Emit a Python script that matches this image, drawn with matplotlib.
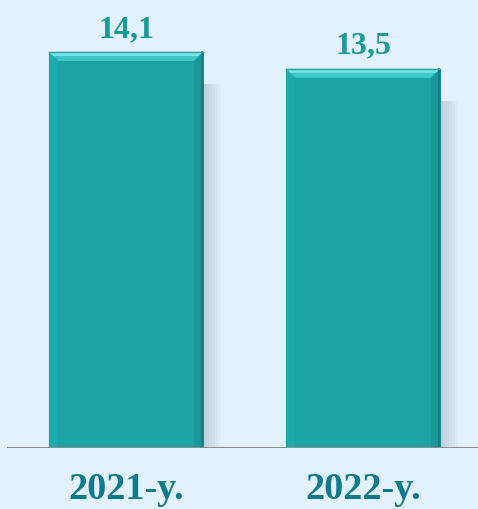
import numpy as np
import matplotlib.pyplot as plt
from matplotlib.patches import Polygon, Rectangle

years = ['2021-y.', '2022-y.']
values = [14.1, 13.5]
value_labels = ['14,1', '13,5']

bg = '#E1F1FD'
bar_col = '#1CA3A3'

fig = plt.figure(figsize=(4.78, 5.09), dpi=100)
fig.patch.set_facecolor(bg)
ax = fig.add_axes([7/478, 61/509, 471/478, 448/509])
ax.set_facecolor(bg)

x = np.arange(len(values))
w = 0.65
ax.set_xlim(-0.502, 1.485)
ax.set_ylim(0, 15.95)

# size of one pixel in data units
px = (1.485 + 0.502) / 471
py = 15.95 / 448

for xi, v, lab in zip(x, values, value_labels):
    l, r = xi - w/2, xi + w/2
    # soft shadow on the right
    for k in range(6):
        ax.add_patch(Rectangle((r, 0), (3 + 3*k)*px, v - 32*py,
                               color='#7F90A0', alpha=0.06, lw=0, zorder=1))
    ax.bar(xi, v, w, color=bar_col, edgecolor='#1B8E8F', linewidth=0.8, zorder=2)
    b = 9
    # bevel: light top, slightly shaded sides
    ax.add_patch(Polygon([(l, v), (r, v), (r - b*px, v - b*py), (l + b*px, v - b*py)],
                         closed=True, color='#3FC6C6', lw=0, zorder=3))
    ax.add_patch(Polygon([(l, v - 1*py), (r, v - 1*py), (r - 3*px, v - 4*py), (l + 3*px, v - 4*py)],
                         closed=True, color='#6EE6E6', lw=0, zorder=3))
    ax.add_patch(Polygon([(l, v), (l + b*px, v - b*py), (l + b*px, 0), (l, 0)],
                         closed=True, color='#20A9A9', lw=0, zorder=3))
    ax.add_patch(Polygon([(r, v), (r - b*px, v - b*py), (r - b*px, 0), (r, 0)],
                         closed=True, color='#1A9798', lw=0, zorder=3))
    ax.plot([r - 1*px, r - 1*px], [0, v], color='#167A7B', lw=1.2, zorder=4)
    ax.plot([l, r], [v, v], color='#3A9FA1', lw=1, zorder=4)
    ax.text(xi, v + 8*py, lab, ha='center', va='bottom', fontsize=23,
            fontweight='bold', family='Liberation Serif', color='#1A9999')

ax.axhline(0, color='#8A8E93', lw=2.2, zorder=5)
for s in ax.spines.values():
    s.set_visible(False)
ax.set_yticks([])
ax.set_xticks(x)
ax.set_xticklabels(years, fontsize=27.5, fontweight='bold', family='Liberation Serif',
                   color='#0F7A8C')
ax.tick_params(axis='x', length=0, pad=17.5)

fig.savefig('out.png', dpi=100, facecolor=bg)
